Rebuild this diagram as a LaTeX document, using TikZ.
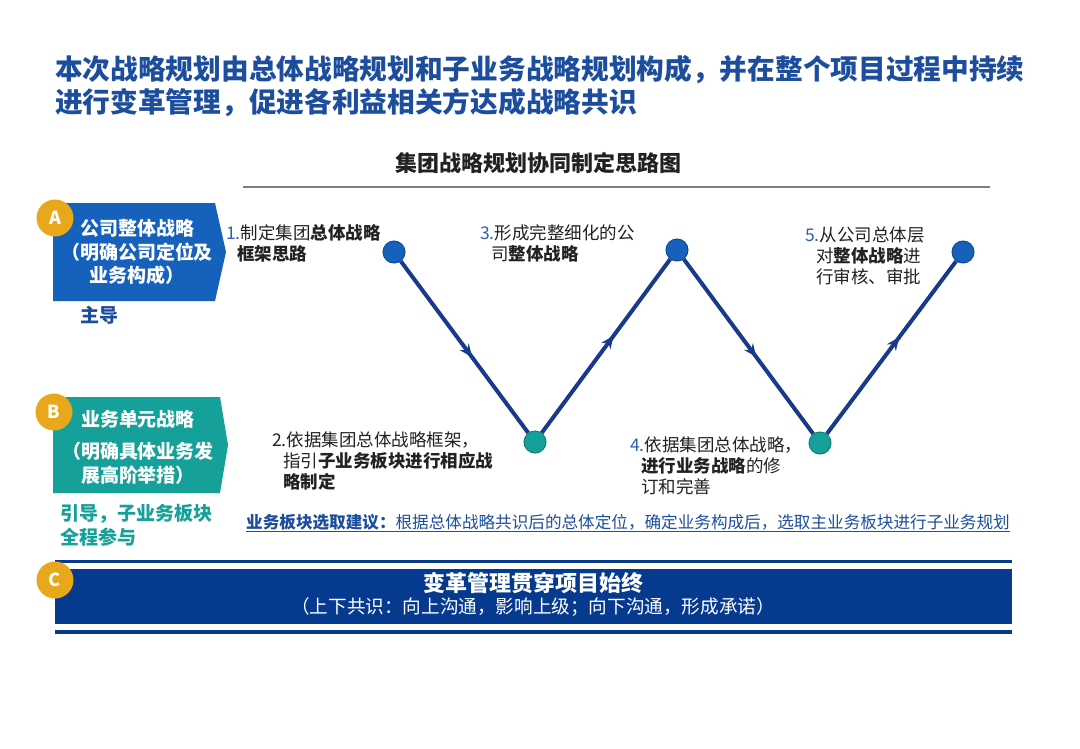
\documentclass[tikz,border=0pt]{standalone}
\usepackage{fontspec}
\setmainfont{Noto Sans CJK SC}
\usepackage{xcolor}
\definecolor{titleBlue}{HTML}{1D4E9E}
\definecolor{boxBlue}{HTML}{1661BC}
\definecolor{boxTeal}{HTML}{16A09A}
\definecolor{dotTealEdge}{HTML}{0E7F7A}
\definecolor{dotBlueEdge}{HTML}{0F4A98}
\definecolor{badgeGold}{HTML}{E9A81B}
\definecolor{pathNavy}{HTML}{183A8A}
\definecolor{barNavy}{HTML}{053A8E}
\definecolor{textDark}{HTML}{222222}
\definecolor{numBlue}{HTML}{2F5FAE}
\definecolor{ruleGray}{HTML}{7F7F7F}
\usepackage{tikz}
\usetikzlibrary{calc, positioning, arrows.meta, decorations.markings}

\tikzset{
  badge/.style={circle, fill=badgeGold, minimum size=37pt, inner sep=0pt,
    text=white, font=\fontsize{18}{18}\selectfont\bfseries},
  boxText/.style={text=white, align=center, inner sep=0pt,
    font=\fontsize{19}{23.5}\selectfont\bfseries},
  sideNote/.style={anchor=north west, align=left, inner sep=0pt,
    font=\fontsize{19}{24}\selectfont\bfseries},
  stepText/.style={anchor=north west, align=left, inner sep=0pt, text=textDark,
    font=\fontsize{17.5}{21}\selectfont},
  topDot/.style={circle, fill=boxBlue, draw=dotBlueEdge, line width=1pt,
    minimum size=22pt, inner sep=0pt},
  lowDot/.style={circle, fill=boxTeal, draw=dotTealEdge, line width=1pt,
    minimum size=22pt, inner sep=0pt},
  legLine/.style={draw=pathNavy, line width=4pt, postaction={decorate},
    decoration={markings, mark=at position 0.56 with {\arrow{Stealth[length=13pt,width=11pt]}}}},
}

\begin{document}
\begin{tikzpicture}[x=1pt, y=-1pt]
  \useasboundingbox (0,0) rectangle (1080,748);
  \fill[white] (0,0) rectangle (1080,748);

  \node[anchor=north west, align=left, inner sep=0pt, text=titleBlue,
        font=\fontsize{27.7}{33}\selectfont\bfseries] (headline) at (55,55) {%
    本次战略规划由总体战略规划和子业务战略规划构成，并在整个项目过程中持续\\
    进行变革管理，促进各利益相关方达成战略共识};

  \node[text=textDark, inner sep=0pt, font=\fontsize{22}{22}\selectfont\bfseries]
    (chartTitle) at (538,163) {集团战略规划协同制定思路图};
  \draw[ruleGray, line width=2pt] (243,187) -- (990,187);

  \fill[boxBlue] (53,203) -- (215,203) -- (226,252) -- (215,301) -- (53,301) -- cycle;
  \node[boxText] (aText) at (137,252) {公司整体战略\\（明确公司定位及\\业务构成）};
  \node[badge] (aBadge) at (55,218) {A};
  \node[sideNote, text=titleBlue] (aNote) at (80,306) {主导};

  \fill[boxTeal] (53,397) -- (220,397) -- (228,445) -- (220,493) -- (53,493) -- cycle;
  \node[boxText] (bText) at (138,447) {业务单元战略\\[9pt]（明确具体业务发\\展高阶举措）};
  \node[badge] (bBadge) at (54,412) {B};
  \node[sideNote, text=boxTeal] (bNote) at (60,504) {引导，子业务板块\\全程参与};

  \node[topDot] (d1) at (394,252) {};
  \node[lowDot] (d2) at (535,442) {};
  \node[topDot] (d3) at (677,250) {};
  \node[lowDot] (d4) at (820,443) {};
  \node[topDot] (d5) at (963,252) {};
  \draw[legLine] (d1) -- (d2);
  \draw[legLine] (d2) -- (d3);
  \draw[legLine] (d3) -- (d4);
  \draw[legLine] (d4) -- (d5);

  \node[stepText] (stepOne) at (226,224) {%
    {\color{numBlue}1.}制定集团\textbf{总体战略}\\
    \hspace*{11pt}\textbf{框架思路}};
  \node[stepText] (stepTwo) at (272,432) {%
    2.依据集团总体战略框架，\\
    \hspace*{11pt}指引\textbf{子业务板块进行相应战}\\
    \hspace*{11pt}\textbf{略制定}};
  \node[stepText] (stepThree) at (480,224) {%
    {\color{numBlue}3.}形成完整细化的公\\
    \hspace*{11pt}司\textbf{整体战略}};
  \node[stepText] (stepFour) at (630,437) {%
    {\color{numBlue}4.}依据集团总体战略，\\
    \hspace*{11pt}\textbf{进行业务战略}的修\\
    \hspace*{11pt}订和完善};
  \node[stepText] (stepFive) at (805,227) {%
    {\color{numBlue}5.}从公司总体层\\
    \hspace*{11pt}对\textbf{整体战略}进\\
    \hspace*{11pt}行审核、审批};

  \node[anchor=base west, inner sep=0pt, text=titleBlue,
        font=\fontsize{16.6}{16.6}\selectfont] (advice) at (246,528) {%
    \underline{\textbf{业务板块选取建议：}根据总体战略共识后的总体定位，确定业务构成后，选取主业务板块进行子业务规划}};

  \fill[barNavy] (55,560) rectangle (1012,563);
  \fill[barNavy] (55,569) rectangle (1012,624);
  \fill[barNavy] (55,630) rectangle (1012,634);
  \node[badge] (cBadge) at (55,580) {C};
  \node[text=white, inner sep=0pt, font=\fontsize{22}{22}\selectfont\bfseries]
    (cTitle) at (533,583) {变革管理贯穿项目始终};
  \node[text=white, inner sep=0pt, font=\fontsize{18.6}{18.6}\selectfont]
    (cSub) at (533,607) {（上下共识：向上沟通，影响上级；向下沟通，形成承诺）};
\end{tikzpicture}
\end{document}
